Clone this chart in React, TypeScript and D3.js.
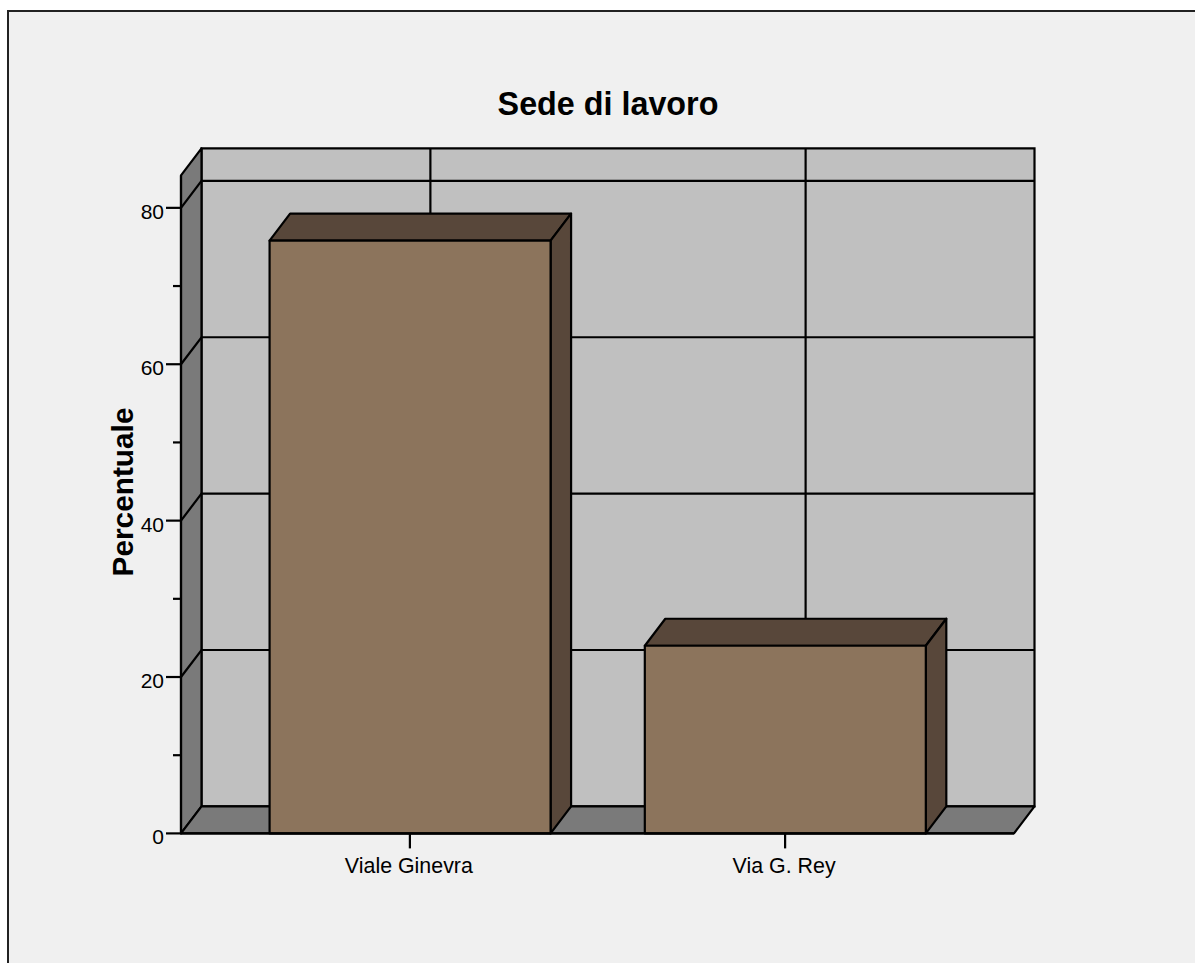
import React from "react";
import * as d3 from "d3";

const chartTitle = "Sede di lavoro";
const yTitle = "Percentuale";
const categories = ["Viale Ginevra", "Via G. Rey"];
const percent = [75.8, 24.0];
const majorTicks = [0, 20, 40, 60, 80];
const minorTicks = [10, 30, 50, 70];

const W = 1195;
const H = 963;
const FONT = "'Liberation Sans', Arial, sans-serif";
const INK = "#000";
const depthX = 20.5;
const depthY = -27;
const barWidth = 281;

const y = d3.scaleLinear().domain([0, 84.15]).range([833.4, 175.4]);
const x = d3.scalePoint<string>().domain(categories).range([181, 1014]).padding(0.61);

const poly = (pts: [number, number][]) => (d3.line()(pts) as string) + "Z";

export default function App() {
  const [x0, x1] = x.range();
  const yB = y(0);
  const yT = y(y.domain()[1]);
  const sw = 2.2;
  return (
    <svg
      width={W}
      height={H}
      viewBox={`0 0 ${W} ${H}`}
      style={{ position: "absolute", left: 0, top: 0, display: "block" }}
    >
      <rect x={0} y={0} width={W} height={H} fill="#fff" />
      <rect x={8} y={11} width={W + 10} height={H + 10} fill="#f0f0f0" stroke="#222" strokeWidth={2} />

      <text x={608} y={115} textAnchor="middle" fontFamily={FONT} fontWeight="700" fontSize={32.3} fill={INK}>
        {chartTitle}
      </text>

      {/* back wall */}
      <path
        d={poly([[x0 + depthX, yT + depthY], [x1 + depthX, yT + depthY], [x1 + depthX, yB + depthY], [x0 + depthX, yB + depthY]])}
        fill="#c0c0c0"
        stroke={INK}
        strokeWidth={sw}
      />
      {/* side wall */}
      <path
        d={poly([[x0, yT], [x0 + depthX, yT + depthY], [x0 + depthX, yB + depthY], [x0, yB]])}
        fill="#7a7a7a"
        stroke={INK}
        strokeWidth={sw}
        strokeLinejoin="round"
      />
      {/* floor */}
      <path
        d={poly([[x0, yB], [x0 + depthX, yB + depthY], [x1 + depthX, yB + depthY], [x1, yB]])}
        fill="#7a7a7a"
        stroke={INK}
        strokeWidth={sw}
        strokeLinejoin="round"
      />

      {/* grid lines on walls */}
      {majorTicks.filter((t) => t > 0).map((t) => (
        <path
          key={t}
          d={d3.line()([[x0, y(t)], [x0 + depthX, y(t) + depthY], [x1 + depthX, y(t) + depthY]]) as string}
          fill="none"
          stroke={INK}
          strokeWidth={sw}
        />
      ))}
      {categories.map((c) => (
        <line
          key={c}
          x1={(x(c) as number) + depthX}
          x2={(x(c) as number) + depthX}
          y1={yT + depthY}
          y2={yB + depthY}
          stroke={INK}
          strokeWidth={sw}
        />
      ))}

      {/* bars */}
      {categories.map((c, i) => {
        const l = (x(c) as number) - barWidth / 2 + 0.2;
        const r = l + barWidth;
        const t = y(percent[i]);
        return (
          <g key={c} stroke={INK} strokeWidth={sw} strokeLinejoin="round">
            <path d={poly([[l, t], [l + depthX, t + depthY], [r + depthX, t + depthY], [r, t]])} fill="#58473a" />
            <path d={poly([[r, t], [r + depthX, t + depthY], [r + depthX, yB + depthY], [r, yB]])} fill="#58473a" />
            <path d={poly([[l, t], [r, t], [r, yB], [l, yB]])} fill="#8c745c" />
          </g>
        );
      })}

      {/* axes */}
      <line x1={x0} x2={x1} y1={yB} y2={yB} stroke={INK} strokeWidth={sw} />
      <line x1={x0} x2={x0} y1={yT} y2={yB} stroke={INK} strokeWidth={sw} />
      {majorTicks.map((t) => (
        <g key={t}>
          <line x1={x0 - 15} x2={x0} y1={y(t)} y2={y(t)} stroke={INK} strokeWidth={sw} />
          <text x={x0 - 17} y={y(t) + 11} textAnchor="end" fontFamily={FONT} fontSize={21} fill={INK}>
            {t}
          </text>
        </g>
      ))}
      {minorTicks.map((t) => (
        <line key={t} x1={x0 - 8} x2={x0} y1={y(t)} y2={y(t)} stroke={INK} strokeWidth={sw} />
      ))}
      {categories.map((c) => (
        <g key={c}>
          <line x1={x(c)} x2={x(c)} y1={yB} y2={yB + 15} stroke={INK} strokeWidth={sw} />
          <text x={(x(c) as number) - 1} y={873} textAnchor="middle" fontFamily={FONT} fontSize={21.4} fill={INK}>
            {c}
          </text>
        </g>
      ))}

      <text
        transform="translate(133,492) rotate(-90)"
        textAnchor="middle"
        fontFamily={FONT}
        fontWeight="700"
        fontSize={29.8}
        fill={INK}
      >
        {yTitle}
      </text>
    </svg>
  );
}
